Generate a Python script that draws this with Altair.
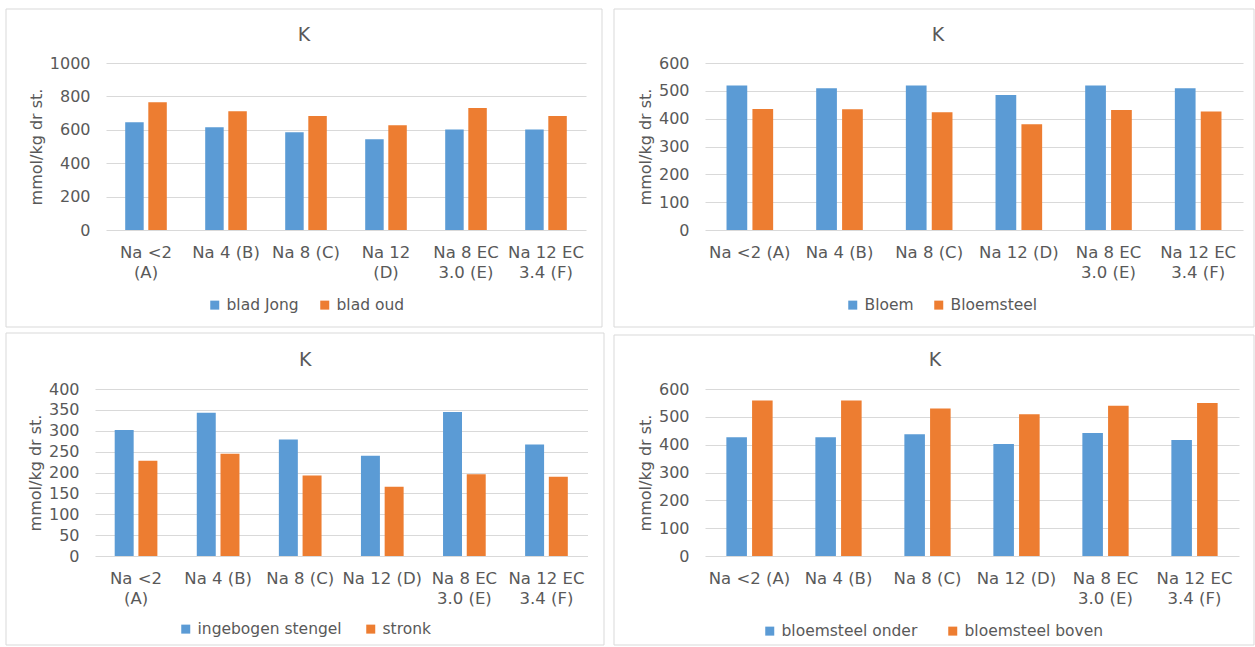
import altair as alt
import pandas as pd

# Treatments on the x axis (same order in all four panels)
categories = ["Na <2 (A)", "Na 4 (B)", "Na 8 (C)", "Na 12 (D)",
              "Na 8 EC 3.0 (E)", "Na 12 EC 3.4 (F)"]

# Tick label wrapping per panel ("|" starts a new line)
wrap_leaf = ["Na <2|(A)", "Na 4 (B)", "Na 8 (C)", "Na 12|(D)",
             "Na 8 EC|3.0 (E)", "Na 12 EC|3.4 (F)"]
wrap_flower = ["Na <2 (A)", "Na 4 (B)", "Na 8 (C)", "Na 12 (D)",
               "Na 8 EC|3.0 (E)", "Na 12 EC|3.4 (F)"]
wrap_stem = ["Na <2|(A)", "Na 4 (B)", "Na 8 (C)", "Na 12 (D)",
             "Na 8 EC|3.0 (E)", "Na 12 EC|3.4 (F)"]

# K content, mmol/kg dry matter
blad_jong = [645, 615, 586, 544, 602, 602]
blad_oud = [765, 711, 683, 627, 731, 683]
bloem = [519, 509, 519, 485, 519, 509]
bloemsteel = [435, 434, 423, 380, 431, 426]
ingebogen_stengel = [302, 343, 279, 240, 345, 267]
stronk = [228, 245, 193, 166, 196, 190]
bloemsteel_onder = [427, 427, 437, 402, 442, 417]
bloemsteel_boven = [559, 559, 530, 509, 540, 550]

BLUE = "#5B9BD5"
ORANGE = "#ED7D31"
GREY_TEXT = "#595959"
GRID = "#D9D9D9"
FONT = "DejaVu Sans"

GROUP_GAP = 0.48   # gap between treatment groups (fraction of a step)
BAR_GAP = 0.2      # gap between the two bars of a group (fraction of a slot)


def label_expr(wrapped):
    expr = "datum.label"
    for cat, w in reversed(list(zip(categories, wrapped))):
        expr = f"datum.label == '{cat}' ? '{w}' : ({expr})"
    return f"split({expr}, '|')"


def panel(names, series, wrapped, ymax, ystep, w, h,
          border, cell, legend_xy, col_pad, title_dx, title_offset):
    rows = []
    for name, vals in zip(names, series):
        for cat, v in zip(categories, vals):
            rows.append({"categorie": cat, "reeks": name, "waarde": v})
    df = pd.DataFrame(rows)

    # two bar slots share the band of each treatment
    group_w = w / len(categories) * (1 - GROUP_GAP)
    slot = group_w / (2 - BAR_GAP)
    bar_w = slot * (1 - BAR_GAP)

    x_enc = alt.X("categorie:N", sort=categories,
                  scale=alt.Scale(paddingInner=GROUP_GAP,
                                  paddingOuter=GROUP_GAP / 2),
                  axis=alt.Axis(title=None, labelExpr=label_expr(wrapped),
                                labelAngle=0, domain=False, ticks=False,
                                grid=False, labelPadding=14.5,
                                labelLineHeight=19.5, labelFontSize=16.5))
    y_enc = alt.Y("waarde:Q",
                  scale=alt.Scale(domain=[0, ymax], nice=False),
                  axis=alt.Axis(title="mmol/kg dr st.", format="d",
                                values=list(range(0, ymax + 1, ystep)),
                                grid=True, gridColor=GRID, domain=False,
                                ticks=False, labelPadding=16, titlePadding=5,
                                labelFontSize=16, titleFontSize=16))
    c_enc = alt.Color("reeks:N",
                      scale=alt.Scale(domain=names, range=[BLUE, ORANGE]),
                      legend=alt.Legend(title=None, orient="none",
                                        direction="horizontal",
                                        legendX=legend_xy[0],
                                        legendY=legend_xy[1],
                                        symbolType="square", symbolSize=81,
                                        symbolStrokeWidth=0,
                                        columnPadding=col_pad, labelOffset=4,
                                        labelFontSize=15.5,
                                        labelColor=GREY_TEXT, labelFont=FONT))

    bar_layers = []
    for i, name in enumerate(names):
        bar_layers.append(
            alt.Chart(df).transform_filter(alt.datum.reeks == name)
            .mark_bar(width=bar_w, xOffset=(i - 0.5) * slot)
            .encode(x=x_enc, y=y_enc, color=c_enc)
        )

    one = alt.Data(values=[{}])
    # light grey frame around the panel
    frame = alt.Chart(one).mark_rect(
        fillOpacity=0, stroke=GRID, strokeWidth=1
    ).encode(
        x=alt.value(border[0]), x2=alt.value(border[1]),
        y=alt.value(border[2]), y2=alt.value(border[3]),
    )
    # transparent cell that fixes the panel's footprint in the grid
    footprint = alt.Chart(one).mark_rect(opacity=0).encode(
        x=alt.value(cell[0]), x2=alt.value(cell[1]),
        y=alt.value(cell[2]), y2=alt.value(cell[3]),
    )

    return alt.layer(footprint, frame, *bar_layers).properties(
        width=w, height=h,
        title=alt.TitleParams("K", fontSize=19, font=FONT, color=GREY_TEXT,
                              fontWeight="normal", anchor="middle",
                              frame="group", dx=title_dx, offset=title_offset),
    )


def spacer():
    return alt.Chart(alt.Data(values=[])).mark_point().encode(
        x=alt.value(0), y=alt.value(0)
    ).properties(width=1, height=1)


p1 = panel(["blad Jong", "blad oud"], [blad_jong, blad_oud], wrap_leaf,
           1000, 200, 480, 167,
           (-100, 496, -54, 264), (-101, 497, -55, 265), (101, 234), 18, -42, -37)
p2 = panel(["Bloem", "Bloemsteel"], [bloem, bloemsteel], wrap_flower,
           600, 100, 538, 167,
           (-91, 549, -54, 264), (-102, 549.5, -55, 265), (140, 234), 17, -36, -37)
p3 = panel(["ingebogen stengel", "stronk"], [ingebogen_stengel, stronk],
           wrap_stem, 400, 50, 492.5, 167,
           (-89, 509, -56, 256), (-90, 510, -61, 257), (83, 232), 21, -36, -42)
p4 = panel(["bloemsteel onder", "bloemsteel boven"],
           [bloemsteel_onder, bloemsteel_boven], wrap_flower,
           600, 100, 534, 167,
           (-91, 549, -54, 256), (-100, 549.5, -61, 257), (57, 234), 27, -37, -42)

row1 = alt.hconcat(spacer(), p1, p2, spacing=0).resolve_scale(color="independent")
row2 = alt.hconcat(spacer(), p3, p4, spacing=0).resolve_scale(color="independent")

chart = alt.vconcat(row1, row2, spacing=0).resolve_scale(
    color="independent"
).properties(
    padding={"left": 4, "top": 8, "right": 0, "bottom": 0},
    background="white",
).configure_view(
    stroke=None
).configure_axis(
    labelFont=FONT, titleFont=FONT, labelColor=GREY_TEXT,
    titleColor=GREY_TEXT, titleFontWeight="normal",
)

chart.save("out.html", embed_options={"renderer": "svg", "actions": False})
